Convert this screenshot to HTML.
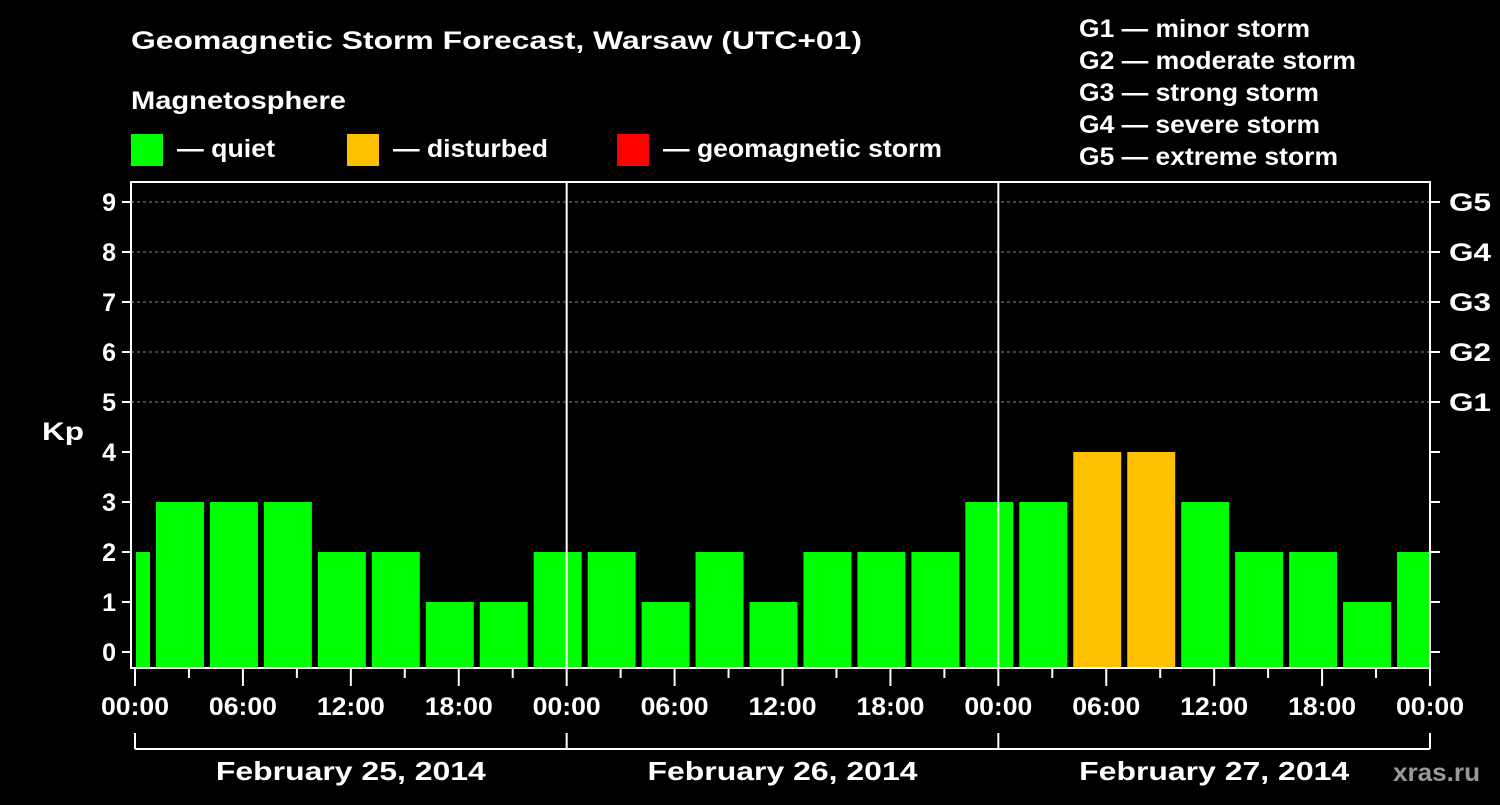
<!DOCTYPE html>
<html><head><meta charset="utf-8"><style>
body{margin:0;background:#000;}
svg text{font-family:"Liberation Sans",Arial,sans-serif;font-weight:bold;fill:#fff;}
</style></head><body>
<svg width="1500" height="800" viewBox="0 0 1500 800" xmlns="http://www.w3.org/2000/svg">
<rect width="1500" height="800" fill="#000"/>
<text x="131" y="49" font-size="25" textLength="731" lengthAdjust="spacingAndGlyphs">Geomagnetic Storm Forecast, Warsaw (UTC+01)</text>
<text x="131" y="109" font-size="25" textLength="215" lengthAdjust="spacingAndGlyphs">Magnetosphere</text>
<g>
<rect x="131" y="134" width="32" height="32" fill="#00ff00"/>
<text x="177" y="157" font-size="25" textLength="98" lengthAdjust="spacingAndGlyphs">— quiet</text>
<rect x="347" y="134" width="32" height="32" fill="#ffc000"/>
<text x="393" y="157" font-size="25" textLength="155" lengthAdjust="spacingAndGlyphs">— disturbed</text>
<rect x="617" y="134" width="32" height="32" fill="#ff0000"/>
<text x="663" y="157" font-size="25" textLength="279" lengthAdjust="spacingAndGlyphs">— geomagnetic storm</text>
</g>
<g font-size="25">
<text x="1079" y="37" textLength="231" lengthAdjust="spacingAndGlyphs">G1 — minor storm</text>
<text x="1079" y="69" textLength="277" lengthAdjust="spacingAndGlyphs">G2 — moderate storm</text>
<text x="1079" y="101" textLength="240" lengthAdjust="spacingAndGlyphs">G3 — strong storm</text>
<text x="1079" y="133" textLength="241" lengthAdjust="spacingAndGlyphs">G4 — severe storm</text>
<text x="1079" y="165" textLength="259" lengthAdjust="spacingAndGlyphs">G5 — extreme storm</text>
</g>
<text x="42" y="440" font-size="25" textLength="42" lengthAdjust="spacingAndGlyphs">Kp</text>
<text x="1393" y="781" font-size="25" textLength="87" lengthAdjust="spacingAndGlyphs" style="fill:#999">xras.ru</text>
<g id="plot"></g>
</svg>
<script>
const kpValues = [2,3,3,3,2,2,1,1,2,2,1,2,1,2,2,2,3,3,4,4,3,2,2,1,2];
const barStartHours = -2;
const yTicks = [0,1,2,3,4,5,6,7,8,9];
const gLabels = ["G1","G2","G3","G4","G5"];
const xTickLabels = ["00:00","06:00","12:00","18:00","00:00","06:00","12:00","18:00","00:00","06:00","12:00","18:00","00:00"];
const dayLabels = ["February 25, 2014","February 26, 2014","February 27, 2014"];

const NS="http://www.w3.org/2000/svg";
const plotG=document.getElementById('plot');
const X0=135, X1=1430, H=72, PTOP=182, PBOT=668;
const xs=h=>X0+(X1-X0)*h/H;
const ys=v=>652-50*v;
function mk(tag,a){const e=document.createElementNS(NS,tag);for(const k in a)e.setAttribute(k,a[k]);plotG.appendChild(e);return e;}
for(let v=5;v<=9;v++){
 const l=mk('line',{x1:131,x2:1430,y1:ys(v),y2:ys(v),stroke:'#888','stroke-dasharray':'3,3','stroke-width':1});
 
 
}
kpValues.forEach((v,i)=>{
 const h0=barStartHours+i*3;
 let a=xs(h0)+3,b=xs(h0+3)-3;
 a=Math.max(a,X0+1);b=Math.min(b,X1-1);
 const c=v>=5?'#ff0000':(v>=4?'#ffc000':'#00ff00');
 const r=mk('rect',{x:a,y:ys(v),width:b-a,height:PBOT-ys(v),fill:c});
 
 
});
[24,48].forEach(h=>{
 const l=mk('line',{x1:xs(h),x2:xs(h),y1:PTOP,y2:PBOT,stroke:'#fff','stroke-width':2});
 
 
});
const f=mk('path',{d:`M131 ${PTOP} L1430 ${PTOP} L1430 ${PBOT} L131 ${PBOT} Z`,fill:'none',stroke:'#fff','stroke-width':2});


yTicks.forEach(v=>{
 mk('line',{x1:122,x2:131,y1:ys(v),y2:ys(v),stroke:'#fff','stroke-width':2});
 mk('line',{x1:1430,x2:1440,y1:ys(v),y2:ys(v),stroke:'#fff','stroke-width':2});
 const t=mk('text',{x:116,y:ys(v)+9,'font-size':25,'text-anchor':'end'});t.textContent=v;
 
 
});
gLabels.forEach((s,i)=>{
 const t=mk('text',{x:1449,y:ys(5+i)+9,'font-size':25,textLength:42,lengthAdjust:'spacingAndGlyphs'});t.textContent=s;
 
 
});
for(let h=0;h<=72;h+=3){mk('line',{x1:xs(h),x2:xs(h),y1:PBOT,y2:h%6==0?686:678,stroke:'#fff','stroke-width':2});}
xTickLabels.forEach((s,i)=>{
 const t=mk('text',{x:xs(i*6),y:715,'font-size':25,'text-anchor':'middle',textLength:68,lengthAdjust:'spacingAndGlyphs'});t.textContent=s;
 
 
});
mk('line',{x1:X0,x2:X1,y1:749,y2:749,stroke:'#fff','stroke-width':2});
[0,24,48,72].forEach(h=>mk('line',{x1:xs(h),x2:xs(h),y1:733,y2:749,stroke:'#fff','stroke-width':2}));
dayLabels.forEach((s,i)=>{
 const t=mk('text',{x:xs(i*24+12),y:780,'font-size':26,'text-anchor':'middle',textLength:270,lengthAdjust:'spacingAndGlyphs'});t.textContent=s;
 
 
});
</script>
</body></html>
